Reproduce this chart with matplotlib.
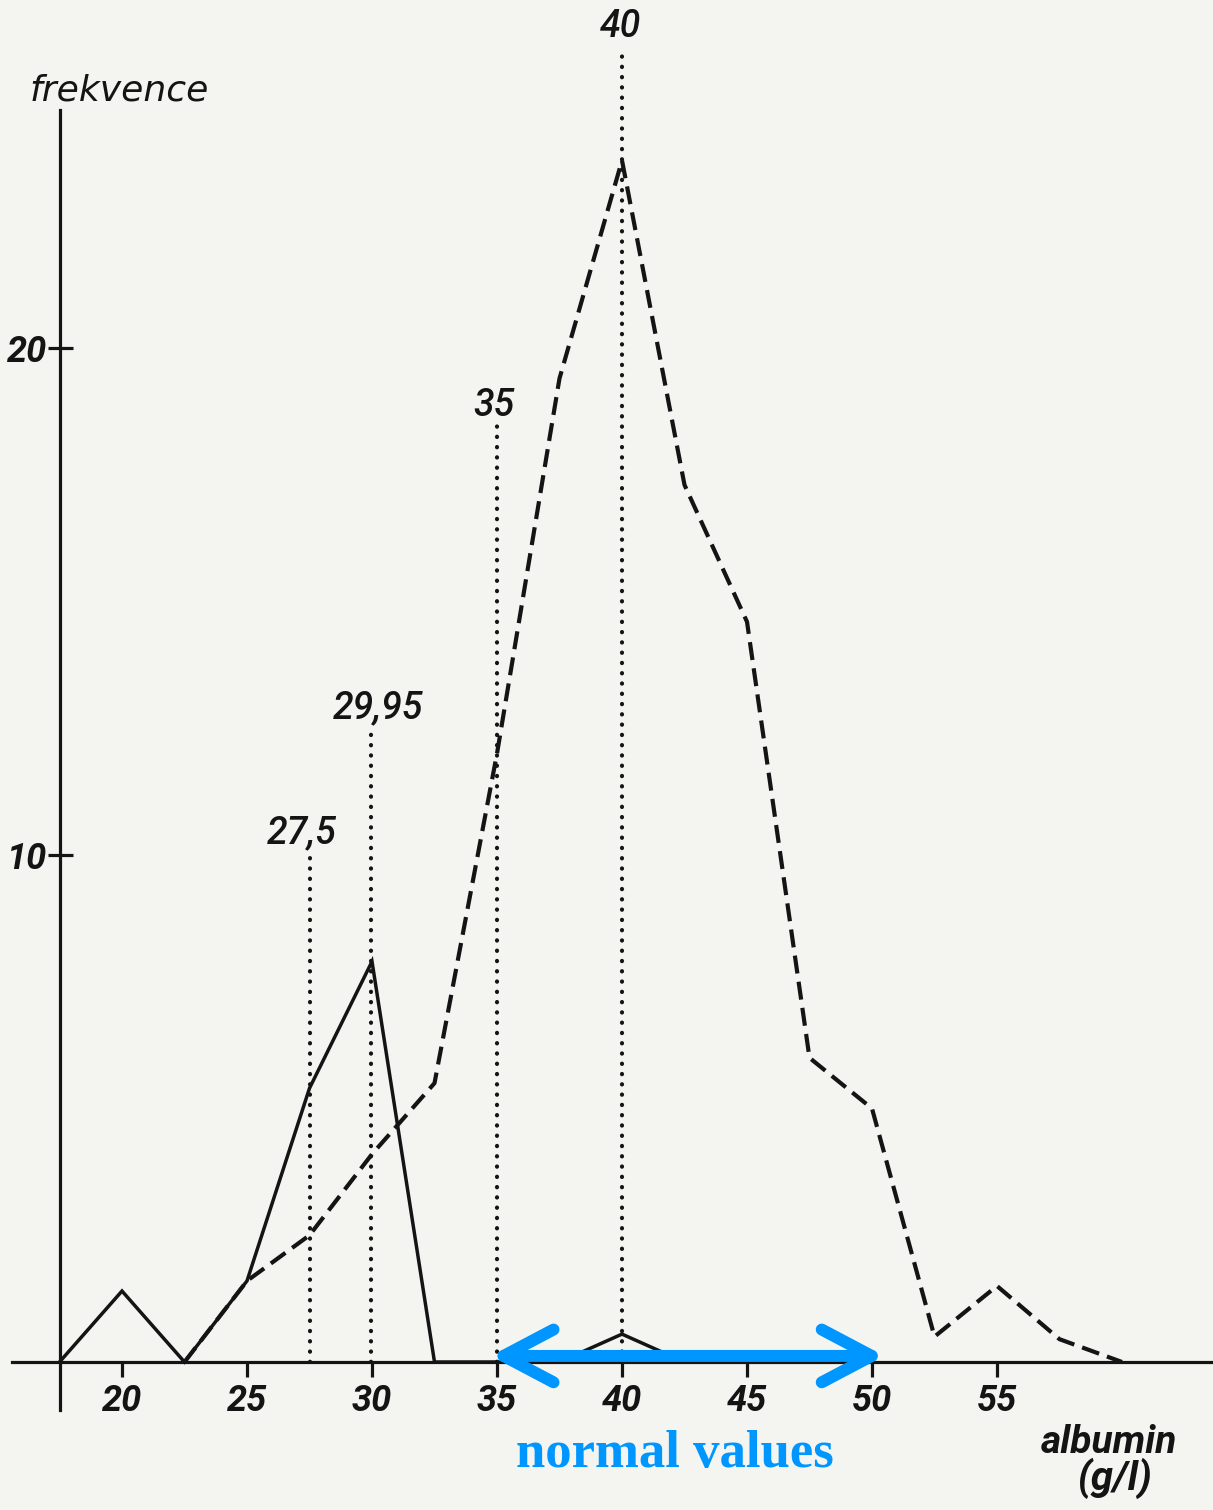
import matplotlib
matplotlib.use("Agg")
import matplotlib.pyplot as plt
from matplotlib.patches import FancyArrowPatch

plt.rcParams["lines.scale_dashes"] = False

# Albumin concentration classes (g/l) and frequencies
albumin_solid = [17.5, 20, 22.5, 25, 27.5, 30, 32.5, 35, 37.5, 40, 42.5, 45, 47.5, 50]
freq_solid = [0, 1.4, 0, 1.6, 5.4, 7.9, 0, 0, 0, 0.55, 0, 0, 0, 0]

albumin_dashed = [22.5, 25, 27.5, 30, 32.5, 35, 37.5, 40, 42.5, 45, 47.5, 50, 52.5, 55, 57.5, 60]
freq_dashed = [0, 1.6, 2.5, 4.1, 5.5, 12.0, 19.4, 23.7, 17.3, 14.6, 6.0, 5.0, 0.5, 1.5, 0.45, 0]

# Marked values (dotted verticals) and how high each line reaches
marks = [27.5, 29.95, 35, 40]
mark_labels = ["27,5", "29,95", "35", "40"]
mark_tops = [10.0, 12.4, 18.5, 25.9]

x_ticks = [20, 25, 30, 35, 40, 45, 50, 55]
y_ticks = [10, 20]

normal_range = (35, 50)

BG = "#f4f5f1"
INK = "#141414"
BLUE = "#0096ff"

fig = plt.figure(figsize=(12.13, 15.10), dpi=100, facecolor=BG)
ax = fig.add_axes([0, 0, 1, 1], facecolor=BG)
ax.set_xlim(15.12, 63.64)
ax.set_ylim(-2.919, 26.864)

# axes drawn as crossing lines
for side in ("top", "right"):
    ax.spines[side].set_visible(False)
ax.spines["left"].set_position(("data", 17.5))
ax.spines["bottom"].set_position(("data", 0))
ax.spines["left"].set_bounds(-0.95, 24.7)
ax.spines["bottom"].set_bounds(15.6, 63.64)
for side in ("left", "bottom"):
    ax.spines[side].set_linewidth(2.3)
    ax.spines[side].set_color(INK)

tick_font = dict(family="Roboto", style="italic", weight="bold", size=26)
ax.set_xticks(x_ticks)
ax.set_xticklabels([str(v) for v in x_ticks], fontdict=tick_font, color=INK)
ax.set_yticks(y_ticks)
ax.set_yticklabels([str(v) for v in y_ticks], fontdict=tick_font, color=INK)
ax.tick_params(axis="x", direction="out", length=11, width=2.3, color=INK, pad=4)
ax.tick_params(axis="y", direction="inout", length=18, width=2.3, color=INK, pad=0)

# frequency polygons
ax.plot(albumin_solid, freq_solid, color=INK, lw=2.5, solid_joinstyle="miter")
ax.plot(albumin_dashed, freq_dashed, color=INK, lw=3.0,
        linestyle=(0, (13, 6)), dash_capstyle="butt")

# dotted markers with their values
for xv, top, lab in zip(marks, mark_tops, mark_labels):
    ax.plot([xv, xv], [0, top], color=INK, lw=3.0,
            linestyle=(0, (0.2, 7.2)), dash_capstyle="round")
label_pos = {"27,5": (27.2, 10.24), "29,95": (30.24, 12.70),
             "35": (34.88, 18.66), "40": (39.92, 26.13)}
for lab in mark_labels:
    lx, ly = label_pos[lab]
    ax.text(lx, ly, lab, ha="center", va="baseline", color=INK,
            family="Roboto", style="italic", weight="medium", size=27)

# axis titles
ax.text(16.32, 24.89, "frekvence", ha="left", va="baseline", color=INK,
        family="DejaVu Sans", style="oblique", size=26)
ax.text(59.48, -1.79, "albumin", ha="center", va="baseline", color=INK,
        family="Roboto", style="italic", weight="bold", size=28)
ax.text(59.72, -2.52, "(g/l)", ha="center", va="baseline", color=INK,
        family="Roboto", style="italic", weight="bold", size=29)

# normal range arrow
arrow = FancyArrowPatch((normal_range[0] - 0.25, 0.12), (normal_range[1] + 0.5, 0.12),
                        arrowstyle="<->,head_length=36,head_width=19",
                        mutation_scale=1, lw=8.6, color=BLUE,
                        capstyle="round", joinstyle="round",
                        shrinkA=0, shrinkB=0, zorder=5)
ax.add_patch(arrow)
ax.text(42.12, -2.07, "normal values",
        ha="center", va="baseline", color=BLUE,
        family="Liberation Serif", weight="bold", size=38)

fig.savefig("out.png", dpi=100, facecolor=BG)
